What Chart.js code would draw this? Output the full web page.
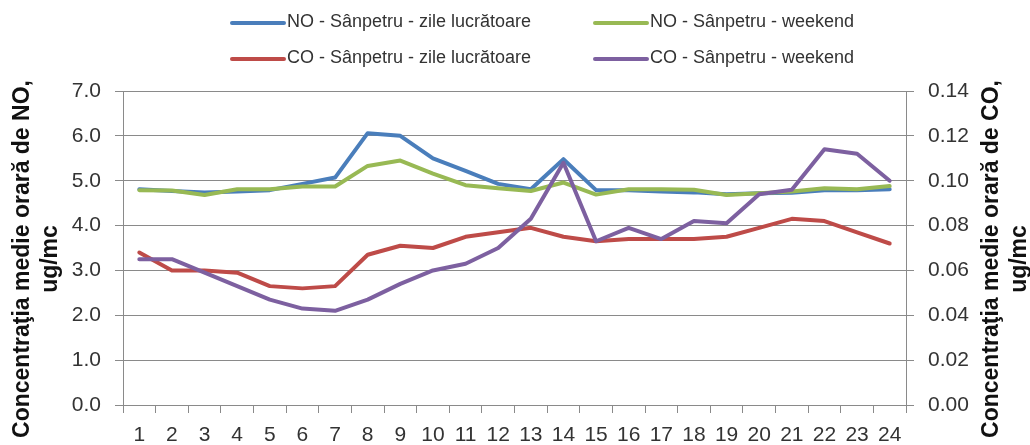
<!DOCTYPE html>
<html>
<head>
<meta charset="utf-8">
<script src="https://cdn.jsdelivr.net/npm/chart.js@4.4.1/dist/chart.umd.min.js"></script>
<style>
html,body{margin:0;padding:0;background:#fff;}
#wrap{width:1030px;height:445px;}
</style>
</head>
<body>
<div id="wrap"><canvas id="c" width="1030" height="445"></canvas></div>
<script>
const hours = ['1','2','3','4','5','6','7','8','9','10','11','12','13','14','15','16','17','18','19','20','21','22','23','24'];
const noWeekday = [4.81,4.77,4.74,4.76,4.79,4.93,5.07,6.06,6.00,5.50,5.22,4.93,4.81,5.48,4.79,4.79,4.76,4.74,4.70,4.72,4.73,4.79,4.79,4.81];
const noWeekend = [4.79,4.78,4.68,4.81,4.81,4.87,4.87,5.33,5.45,5.16,4.90,4.83,4.77,4.96,4.69,4.81,4.81,4.80,4.68,4.72,4.76,4.83,4.81,4.88];
const coWeekday = [0.068,0.060,0.060,0.059,0.053,0.052,0.053,0.067,0.071,0.070,0.075,0.077,0.079,0.075,0.073,0.074,0.074,0.074,0.075,0.079,0.083,0.082,0.077,0.072];
const coWeekend = [0.065,0.065,0.059,0.053,0.047,0.043,0.042,0.047,0.054,0.060,0.063,0.070,0.083,0.108,0.073,0.079,0.074,0.082,0.081,0.094,0.096,0.114,0.112,0.100];
const seriesLabels = ['NO - Sânpetru - zile lucrătoare','NO - Sânpetru - weekend','CO - Sânpetru - zile lucrătoare','CO - Sânpetru - weekend'];
const leftTitle = ['Concentraţia medie orară de NO,','ug/mc'];
const rightTitle = ['Concentraţia medie orară de CO,','ug/mc'];

const FONT = "'Liberation Sans', Arial, sans-serif";
const GRID = '#8a8a8a';
const TXT = '#333333';

function drawRotated(ctx, lines, xs, cy) {
  lines.forEach((t, i) => {
    ctx.save();
    ctx.translate(xs[i], cy);
    ctx.rotate(-Math.PI / 2);
    ctx.fillText(t, 0, 0);
    ctx.restore();
  });
}

const legendPlugin = {
  id: 'customLegend',
  afterDraw(chart) {
    const ctx = chart.ctx;
    const pos = [[230,22],[593,22],[230,58],[593,58]];
    ctx.save();
    ctx.font = '18px ' + FONT;
    ctx.textBaseline = 'middle';
    ctx.textAlign = 'left';
    chart.data.datasets.forEach((ds, i) => {
      const [x, y] = pos[i];
      ctx.strokeStyle = ds.borderColor;
      ctx.lineWidth = 4;
      ctx.lineCap = 'round';
      ctx.beginPath();
      ctx.moveTo(x + 2, y + 1);
      ctx.lineTo(x + 54, y + 1);
      ctx.stroke();
      ctx.fillStyle = TXT;
      ctx.fillText(ds.label, x + 57, y);
    });
    // axis titles (both read bottom-to-top)
    ctx.font = 'bold 23px ' + FONT;
    ctx.fillStyle = '#111';
    ctx.textAlign = 'center';
    drawRotated(ctx, leftTitle, [23, 51], 259);
    drawRotated(ctx, rightTitle, [992, 1020], 259);
    ctx.restore();
  }
};

new Chart(document.getElementById('c'), {
  type: 'line',
  data: {
    labels: hours,
    datasets: [
      {label: seriesLabels[0], data: noWeekday, yAxisID: 'y', borderColor: '#4A7EBB', order: 4},
      {label: seriesLabels[1], data: noWeekend, yAxisID: 'y', borderColor: '#98B954', order: 3},
      {label: seriesLabels[2], data: coWeekday, yAxisID: 'y1', borderColor: '#BE4B48', order: 2},
      {label: seriesLabels[3], data: coWeekend, yAxisID: 'y1', borderColor: '#7D60A0', order: 1}
    ]
  },
  options: {
    responsive: false,
    devicePixelRatio: 1,
    animation: false,
    layout: {padding: {top: 91, left: 0, right: 0, bottom: 0}},
    elements: {
      line: {borderWidth: 4, tension: 0, fill: false, borderJoinStyle: 'round', borderCapStyle: 'round'},
      point: {radius: 0, hoverRadius: 0}
    },
    plugins: {legend: {display: false}, tooltip: {enabled: false}},
    scales: {
      x: {
        type: 'category',
        offset: true,
        grid: {display: true, drawOnChartArea: false, drawTicks: true, tickLength: 8, offset: true, color: GRID},
        border: {color: GRID, width: 1},
        ticks: {color: TXT, font: {family: FONT, size: 21}, padding: 10, maxRotation: 0, autoSkip: false},
        afterFit: s => { s.height = 40; }
      },
      y: {
        position: 'left',
        min: 0, max: 7,
        ticks: {stepSize: 1, color: TXT, font: {family: FONT, size: 21}, padding: 14, callback: v => Number(v).toFixed(1)},
        grid: {color: GRID, tickLength: 8, lineWidth: 1},
        border: {color: GRID, width: 1},
        title: {display: false, text: leftTitle},
        afterFit: s => { s.width = 123; }
      },
      y1: {
        position: 'right',
        min: 0, max: 0.14,
        ticks: {stepSize: 0.02, color: TXT, font: {family: FONT, size: 21}, padding: 14, callback: v => Number(v).toFixed(2)},
        grid: {drawOnChartArea: false, color: GRID, tickLength: 8},
        border: {color: GRID, width: 1},
        title: {display: false, text: rightTitle},
        afterFit: s => { s.width = 124; }
      }
    }
  },
  plugins: [legendPlugin]
});
</script>
</body>
</html>
